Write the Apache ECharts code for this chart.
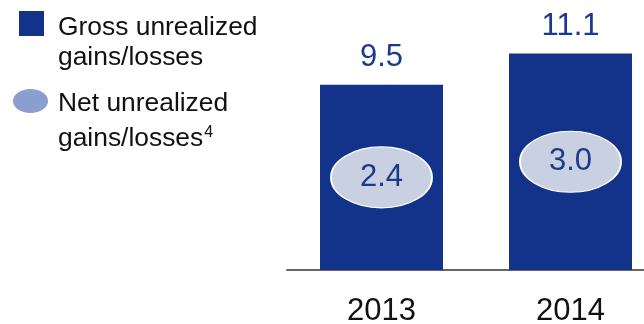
<!DOCTYPE html>
<html>
<head>
<meta charset="utf-8">
<script src="https://cdn.jsdelivr.net/npm/echarts@6/dist/echarts.min.js"></script>
<style>
  html, body { margin: 0; padding: 0; background: #fff; }
  #main { width: 644px; height: 324px; }
</style>
</head>
<body>
<div id="main"></div>
<script>
var years = ['2013', '2014'];
var gross = [9.5, 11.1];   // gross unrealized gains/losses
var net = [2.4, 3.0];      // net unrealized gains/losses

var barColor = '#13338a';
var textBlue = '#1c3a8c';
var font = '"Liberation Sans", Arial, sans-serif';

var chart = echarts.init(document.getElementById('main'));

// ellipses sit half way up each bar
var netPoints = [];
for (var i = 0; i < years.length; i++) {
    netPoints.push([years[i], gross[i] / 2, net[i]]);
}

chart.setOption({
    animation: false,
    grid: { left: 287, width: 378, top: 36, height: 234, outerBoundsMode: 'none', containLabel: false },
    xAxis: {
        type: 'category',
        data: years,
        axisLine: { lineStyle: { color: '#666', width: 2 } },
        axisTick: { show: false },
        axisLabel: { color: '#111', fontSize: 31, fontFamily: font, margin: 26 }
    },
    yAxis: {
        type: 'value',
        min: 0,
        max: 12,
        show: false,
        splitLine: { show: false }
    },
    series: [
        {
            name: 'Gross unrealized gains/losses',
            type: 'bar',
            data: gross,
            barWidth: 123,
            itemStyle: { color: barColor },
            label: {
                show: true,
                position: 'top',
                distance: 12,
                color: textBlue,
                fontSize: 31,
                fontFamily: font,
                formatter: function (p) { return p.value.toFixed(1); }
            }
        },
        {
            name: 'Net unrealized gains/losses',
            type: 'scatter',
            data: netPoints,
            symbol: 'circle',
            symbolSize: [101, 61],
            itemStyle: { color: '#c8d0e2', opacity: 1, borderColor: '#fff', borderWidth: 1.5 },
            label: {
                show: true,
                position: 'inside',
                color: textBlue,
                fontSize: 31,
                fontFamily: font,
                formatter: function (p) { return p.value[2].toFixed(1); }
            },
            z: 3
        }
    ],
    graphic: [
        { type: 'rect', shape: { x: 19, y: 11, width: 25, height: 25 }, style: { fill: barColor } },
        { type: 'text', style: { text: 'Gross unrealized', x: 58, y: 28, font: '26.4px ' + font, fill: '#111', verticalAlign: 'middle' } },
        { type: 'text', style: { text: 'gains/losses', x: 58, y: 58, font: '26.4px ' + font, fill: '#111', verticalAlign: 'middle' } },
        { type: 'ellipse', shape: { cx: 30.5, cy: 101, rx: 17.5, ry: 12 }, style: { fill: '#8a9fcf' } },
        { type: 'text', style: { text: 'Net unrealized', x: 58, y: 104, font: '26.4px ' + font, fill: '#111', verticalAlign: 'middle' } },
        {
            type: 'text',
            style: {
                text: 'gains/losses{sup|4}', x: 58, y: 139, font: '26.4px ' + font, fill: '#111', verticalAlign: 'middle',
                rich: { sup: { fontSize: 16, fontFamily: font, verticalAlign: 'top', padding: [0, 0, 12, 1] } }
            }
        }
    ]
});
</script>
</body>
</html>
